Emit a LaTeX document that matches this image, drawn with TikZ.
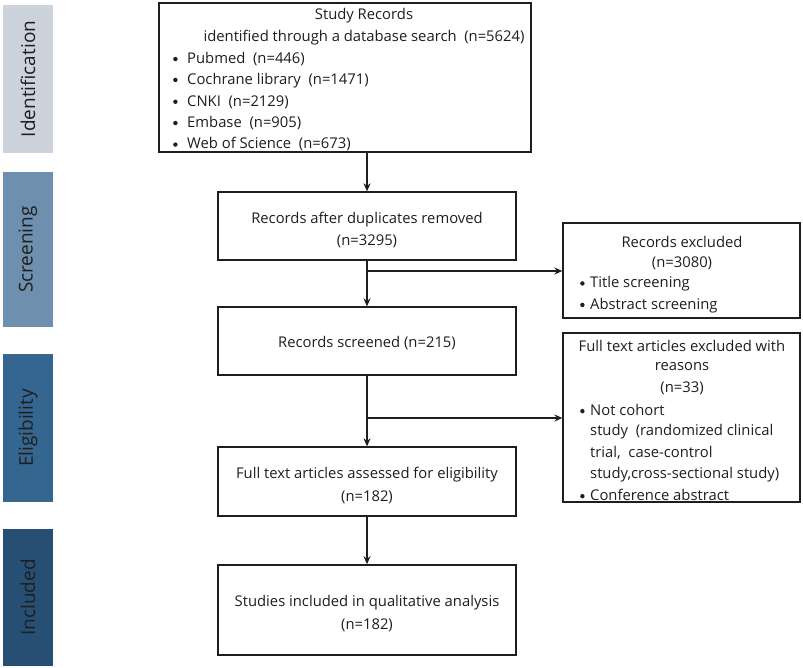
\documentclass[tikz,border=0pt]{standalone}
\usepackage{fontspec}
\setmainfont{Open Sans}
\usetikzlibrary{arrows.meta}
\definecolor{cid}{HTML}{CCD3DD}
\definecolor{csc}{HTML}{6F8FAF}
\definecolor{cel}{HTML}{35668F}
\definecolor{cin}{HTML}{264F73}
\definecolor{ink}{HTML}{1E1E1E}
\newcommand\bul[1]{\makebox[#1][l]{\raisebox{0.28ex}{\tikz\fill[ink] (0,0) circle (2.2pt);}}}
\begin{document}
\begin{tikzpicture}[x=1pt,y=-1pt,
 box/.style={draw=ink,line width=1.3pt,inner sep=0pt},
 mtxt/.style={inner sep=0pt,align=center,font=\fontsize{14.8}{22.5}\selectfont,text=ink},
 txt/.style={inner sep=0pt,font=\fontsize{14.8}{16}\selectfont,text=ink},
 phase/.style={inner sep=0pt,rotate=90,font=\fontsize{19}{22}\selectfont,text=ink},
 arr/.style={line width=1.3pt,draw=ink,-{Stealth[length=8pt,width=7pt]}}]
\useasboundingbox (0,0) rectangle (803,668);
% phase bars
\node[phase,fill=cid,minimum width=148pt,minimum height=50pt] (pid) at (28,79) {Identification};
\node[phase,fill=csc,minimum width=155pt,minimum height=50pt] (psc) at (28,249.5) {Screening};
\node[phase,fill=cel,minimum width=148pt,minimum height=50pt] (pel) at (28,428) {Eligibility};
\node[phase,fill=cin,minimum width=137pt,minimum height=50pt] (pin) at (28,597.5) {Included};
% top box
\node[box,minimum width=372pt,minimum height=149pt] (top) at (345,77.5) {};
\node[txt] (t1) at (364,16) {Study Records};
\node[txt] (t2) at (364,38) {identified through a database search\ \ (n=5624)};
\node[txt,anchor=west] (t3) at (173,59) {\bul{14pt}Pubmed\ \ (n=446)};
\node[txt,anchor=west] (t4) at (173,80.5) {\bul{14pt}Cochrane library\ \ (n=1471)};
\node[txt,anchor=west] (t5) at (173,102) {\bul{14pt}CNKI\ \ (n=2129)};
\node[txt,anchor=west] (t6) at (173,123) {\bul{14pt}Embase\ \ (n=905)};
\node[txt,anchor=west] (t7) at (173,144.5) {\bul{14pt}Web of Science\ \ (n=673)};
% main boxes
\node[box,minimum width=298pt,minimum height=68pt] (b2) at (367,226) {};
\node[mtxt] (b2t) at (367,230) {Records after duplicates removed\\(n=3295)};
\node[box,minimum width=298pt,minimum height=68pt] (b3) at (367,341) {};
\node[mtxt] (b3t) at (367,343) {Records screened (n=215)};
\node[box,minimum width=298pt,minimum height=69pt] (b4) at (367,481.5) {};
\node[mtxt] (b4t) at (367,485.5) {Full text articles assessed for eligibility\\(n=182)};
\node[box,minimum width=298pt,minimum height=90pt,line width=1.6pt] (b5) at (367,610) {};
\node[mtxt] (b5t) at (367,613.5) {Studies included in qualitative analysis\\(n=182)};
% right boxes
\node[box,minimum width=237pt,minimum height=95pt] (r1) at (681.5,270.5) {};
\node[txt] (r1a) at (682,241.5) {Records excluded};
\node[txt] (r1b) at (682,263) {(n=3080)};
\node[txt,anchor=west] (r1c) at (580,284) {\bul{10pt}Title screening};
\node[txt,anchor=west] (r1d) at (580,305.5) {\bul{10pt}Abstract screening};
\node[box,minimum width=237pt,minimum height=169pt] (r2) at (681.5,417.5) {};
\node[txt] (r2a) at (682,345.5) {Full text articles excluded with};
\node[txt] (r2b) at (682,367) {reasons};
\node[txt] (r2c) at (682,388.5) {(n=33)};
\node[txt,anchor=west] (r2d) at (580,410) {\bul{10pt}Not cohort};
\node[txt,anchor=west] (r2e) at (590,431.5) {study\ \ (randomized clinical};
\node[txt,anchor=west] (r2f) at (590,453) {trial,\ \ case-control};
\node[txt,anchor=west] (r2g) at (590,474.5) {study,cross-sectional study)};
\node[txt,anchor=west] (r2h) at (580,495) {\bul{10pt}Conference abstract};
% connectors
\draw[arr] (b2.north |- top.south) -- (b2.north);
\draw[arr] (b2.south) -- (b3.north);
\coordinate (j1) at (367,271);
\draw[arr] (j1) -- (r1.west |- j1);
\draw[arr] (b3.south) -- (b4.north);
\coordinate (j2) at (367,418);
\draw[arr] (j2) -- (r2.west |- j2);
\draw[arr] (b4.south) -- (b5.north);
\end{tikzpicture}
\end{document}
